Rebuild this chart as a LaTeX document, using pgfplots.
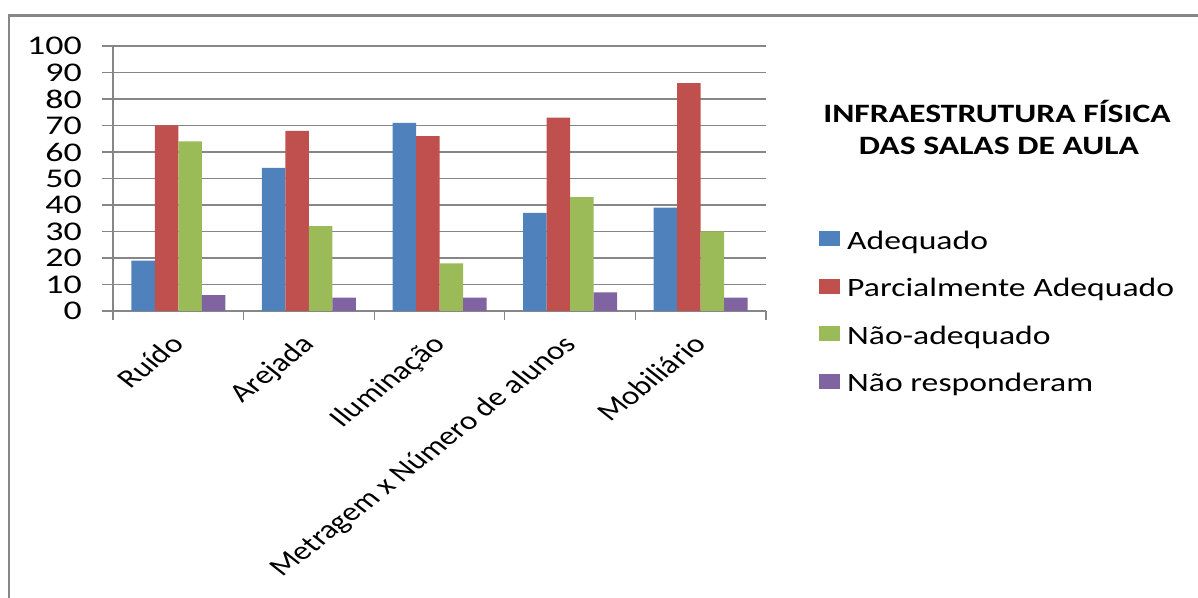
\documentclass[border=0pt]{standalone}
\usepackage{pgfplots}
\pgfplotsset{compat=1.18}
\usepackage{fontspec}
\setmainfont{Carlito}
\newfontfamily\widefont[FakeStretch=1.27]{Carlito}
\newfontfamily\tickfont[FakeStretch=1.33]{Carlito}
\definecolor{cBlue}{HTML}{4F81BD}
\definecolor{cRed}{HTML}{C0504D}
\definecolor{cGreen}{HTML}{9BBB59}
\definecolor{cPurple}{HTML}{8064A2}
\definecolor{lineGray}{RGB}{134,134,134}

\begin{document}
\begin{tikzpicture}[x=1bp,y=1bp]
\useasboundingbox (0,0) rectangle (1198,598);
% chart frame (left and top edges)
\draw[lineGray, line width=2.6bp] (9,-5) -- (9,582.5) -- (1205,582.5);
\begin{axis}[
  at={(113bp,287bp)}, anchor=south west,
  width=653bp, height=265bp, scale only axis,
  ymin=0, ymax=100, ytick={0,10,...,100},
  xmin=-0.5, xmax=4.5,
  xtick={-0.5,0.5,...,4.5},
  x tick label as interval,
  xticklabels={Ruído,Arejada,Iluminação,Metragem x Número de alunos,Mobiliário},
  axis lines*=left,
  axis line style={lineGray, line width=1.3bp},
  ymajorgrids,
  grid style={lineGray, line width=1.3bp},
  tick align=outside,
  major tick length=11bp,
  tick style={lineGray, line width=1.3bp},
  xtick style={/pgfplots/major tick length=9bp},
  ybar=0pt, bar width=23.5bp,
  /pgf/number format/assume math mode=true,
  yticklabel style={font=\tickfont\fontsize{27bp}{30bp}\selectfont, anchor=east, inner sep=0pt, xshift=-20bp},
  xticklabel style={font=\fontsize{26bp}{30bp}\selectfont, inner sep=0pt,
    xshift=-9bp, yshift=-11bp, xscale=1.27, rotate=45, anchor=north east},
  legend image code/.code={\fill[#1] (0bp,-4bp) rectangle (21bp,11bp);},
  legend cell align=left,
  legend style={at={(axis description cs:1.0812,0.310)}, anchor=north west,
    draw=none, fill=none, inner sep=0pt, row sep=21.5bp, column sep=7bp,
    font=\widefont\fontsize{26.5bp}{30bp}\selectfont,
    nodes={inner sep=0pt, text height=20bp, text depth=6bp}},
]
\addplot[fill=cBlue, draw=none] coordinates {(0,19) (1,54) (2,71) (3,37) (4,39)};
\addplot[fill=cRed, draw=none] coordinates {(0,70) (1,68) (2,66) (3,73) (4,86)};
\addplot[fill=cGreen, draw=none] coordinates {(0,64) (1,32) (2,18) (3,43) (4,30)};
\addplot[fill=cPurple, draw=none] coordinates {(0,6) (1,5) (2,5) (3,7) (4,5)};
\legend{Adequado, Parcialmente Adequado, Não-adequado, Não responderam}
\end{axis}
\node[font=\widefont\bfseries\fontsize{26.5bp}{30bp}\selectfont, anchor=base] at (997,475) {INFRAESTRUTURA FÍSICA};
\node[font=\widefont\bfseries\fontsize{26.5bp}{30bp}\selectfont, anchor=base] at (999,443) {DAS SALAS DE AULA};
\end{tikzpicture}
\end{document}
